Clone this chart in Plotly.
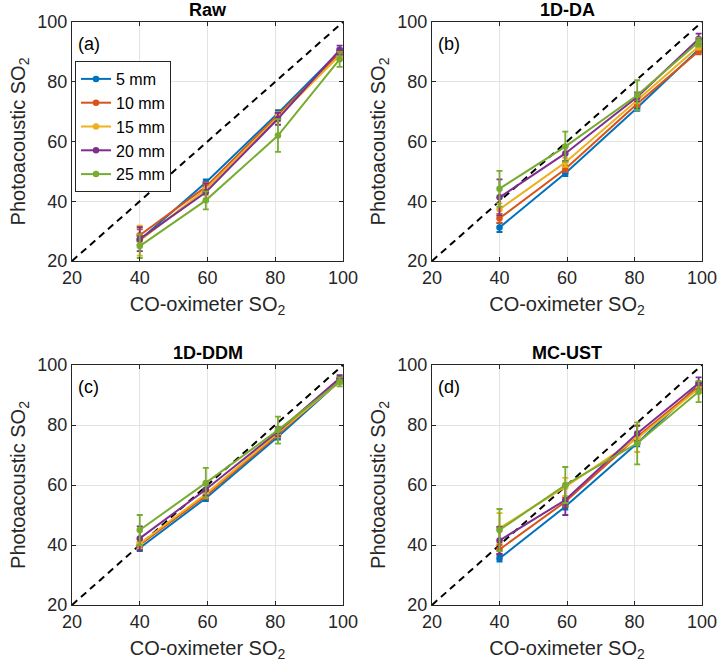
import plotly.graph_objects as go

# ---------------- data ----------------
x_so2 = [40, 59.5, 80.8, 99]
series_names = ["5 mm", "10 mm", "15 mm", "20 mm", "25 mm"]
colors = ["#0072BD", "#D95319", "#EDB120", "#7E2F8E", "#77AC30"]

panel_titles = ["Raw", "1D-DA", "1D-DDM", "MC-UST"]
panel_labels = ["(a)", "(b)", "(c)", "(d)"]
tick_vals = [20, 40, 60, 80, 100]

raw_5 = [27.0, 46.3, 69.5, 90.2]
raw_10 = [28.6, 44.8, 68.8, 89.5]
raw_15 = [26.8, 44.0, 68.2, 88.8]
raw_20 = [27.3, 43.0, 67.6, 90.6]
raw_25 = [25.0, 40.3, 62.0, 87.5]
raw_5_err = [1.5, 1.0, 1.0, 1.0]
raw_10_err = [2.0, 1.5, 1.0, 1.0]
raw_15_err = [5.0, 2.0, 1.5, 1.5]
raw_20_err = [4.0, 3.0, 2.0, 1.5]
raw_25_err = [4.0, 3.0, 5.5, 2.5]

da_5 = [31.2, 49.4, 71.3, 90.8]
da_10 = [34.3, 50.8, 72.6, 90.2]
da_15 = [37.3, 53.0, 73.8, 91.8]
da_20 = [41.3, 56.0, 74.9, 94.3]
da_25 = [44.2, 58.3, 75.5, 93.3]
da_5_err = [1.5, 1.0, 1.0, 1.0]
da_10_err = [1.5, 1.0, 1.0, 1.0]
da_15_err = [2.0, 1.5, 1.0, 1.0]
da_20_err = [6.0, 2.5, 1.5, 1.8]
da_25_err = [6.0, 5.0, 5.0, 1.5]

ddm_5 = [39.0, 55.6, 76.1, 94.6]
ddm_10 = [40.0, 56.4, 76.8, 94.8]
ddm_15 = [40.4, 57.0, 77.3, 94.4]
ddm_20 = [42.2, 58.5, 77.8, 95.6]
ddm_25 = [45.0, 60.7, 78.3, 94.4]
ddm_5_err = [1.0, 1.0, 1.0, 0.8]
ddm_10_err = [1.0, 1.0, 1.0, 0.8]
ddm_15_err = [1.5, 1.2, 1.2, 0.8]
ddm_20_err = [4.0, 2.0, 1.5, 1.0]
ddm_25_err = [5.0, 5.0, 4.5, 1.5]

ust_5 = [35.5, 52.8, 73.9, 93.3]
ust_10 = [38.5, 54.4, 76.1, 92.8]
ust_15 = [45.6, 59.4, 75.5, 92.2]
ust_20 = [41.5, 55.0, 77.2, 93.9]
ust_25 = [45.0, 60.0, 73.9, 91.1]
ust_5_err = [1.0, 1.0, 1.0, 1.0]
ust_10_err = [1.5, 1.5, 1.0, 1.0]
ust_15_err = [5.0, 3.0, 4.5, 1.5]
ust_20_err = [4.5, 5.0, 2.5, 2.0]
ust_25_err = [7.0, 6.0, 7.0, 3.5]

panels = [
    ([raw_5, raw_10, raw_15, raw_20, raw_25],
     [raw_5_err, raw_10_err, raw_15_err, raw_20_err, raw_25_err]),
    ([da_5, da_10, da_15, da_20, da_25],
     [da_5_err, da_10_err, da_15_err, da_20_err, da_25_err]),
    ([ddm_5, ddm_10, ddm_15, ddm_20, ddm_25],
     [ddm_5_err, ddm_10_err, ddm_15_err, ddm_20_err, ddm_25_err]),
    ([ust_5, ust_10, ust_15, ust_20, ust_25],
     [ust_5_err, ust_10_err, ust_15_err, ust_20_err, ust_25_err]),
]
identity_line = [20, 100]

# ---------------- layout geometry ----------------
W, H = 722, 669
x_domains = [[72 / W, 343 / W], [432 / W, 702 / W]]
y_domains = [[(H - 261) / H, (H - 22) / H],
             [(H - 605) / H, (H - 365) / H]]

FONT = "Liberation Sans, Arial, sans-serif"
fig = go.Figure()
annotations = []

for i, (vals, errs) in enumerate(panels):
    col = i % 2
    row = i // 2
    xa = "x" if i == 0 else f"x{i+1}"
    ya = "y" if i == 0 else f"y{i+1}"
    # identity dashed line
    fig.add_trace(go.Scatter(
        x=identity_line, y=identity_line, mode="lines",
        line=dict(color="black", width=2, dash="7px,5px"),
        showlegend=False, hoverinfo="skip", xaxis=xa, yaxis=ya))
    for k in range(len(series_names)):
        fig.add_trace(go.Scatter(
            x=x_so2, y=vals[k], mode="lines+markers", name=series_names[k],
            line=dict(color=colors[k], width=2),
            marker=dict(color=colors[k], size=6.5, symbol="circle"),
            error_y=dict(type="data", array=errs[k], color=colors[k],
                         thickness=1.8, width=3, visible=True),
            showlegend=(i == 0), legendgroup=series_names[k],
            xaxis=xa, yaxis=ya))

    axis_common = dict(
        range=[20, 100], tickvals=tick_vals, ticks="inside", ticklen=4,
        tickcolor="#262626", showline=True, linecolor="#262626", linewidth=1,
        mirror="ticks", showgrid=True, gridcolor="#e3e3e3", gridwidth=1,
        zeroline=False, automargin=False,
        tickfont=dict(family=FONT, size=18, color="#262626"),
    )
    fig.layout[f"xaxis{'' if i == 0 else i+1}"] = dict(
        axis_common, domain=x_domains[col], anchor=ya,
        title=dict(text="CO-oximeter SO<sub>2</sub>",
                   font=dict(family=FONT, size=20, color="#262626"), standoff=10))
    fig.layout[f"yaxis{'' if i == 0 else i+1}"] = dict(
        axis_common, domain=y_domains[row], anchor=xa,
        title=dict(text="Photoacoustic SO<sub>2</sub>",
                   font=dict(family=FONT, size=20, color="#262626"), standoff=6))

    # panel title
    annotations.append(dict(
        text=f"<b>{panel_titles[i]}</b>", xref="paper", yref="paper",
        x=sum(x_domains[col]) / 2, y=y_domains[row][1], yshift=0,
        xanchor="center", yanchor="bottom", showarrow=False,
        font=dict(family=FONT, size=18, color="black")))
    # panel label
    annotations.append(dict(
        text=panel_labels[i], xref="paper", yref="paper",
        x=x_domains[col][0], y=y_domains[row][1], xshift=4, yshift=-10,
        xanchor="left", yanchor="top", showarrow=False,
        font=dict(family=FONT, size=18, color="black")))

fig.update_layout(
    width=W, height=H,
    margin=dict(l=0, r=0, t=0, b=0, autoexpand=False),
    paper_bgcolor="white", plot_bgcolor="white",
    annotations=annotations,
    showlegend=True,
    legend=dict(x=75 / W, y=1 - 61 / H, xanchor="left", yanchor="top",
                bgcolor="white", bordercolor="#262626", borderwidth=1,
                font=dict(family=FONT, size=16, color="black"),
                tracegroupgap=0, itemwidth=30),
)

fig.write_html(
    "out.html",
    config={"displayModeBar": False},
    post_script="document.body.style.margin='0';document.body.style.overflow='hidden';",
)
